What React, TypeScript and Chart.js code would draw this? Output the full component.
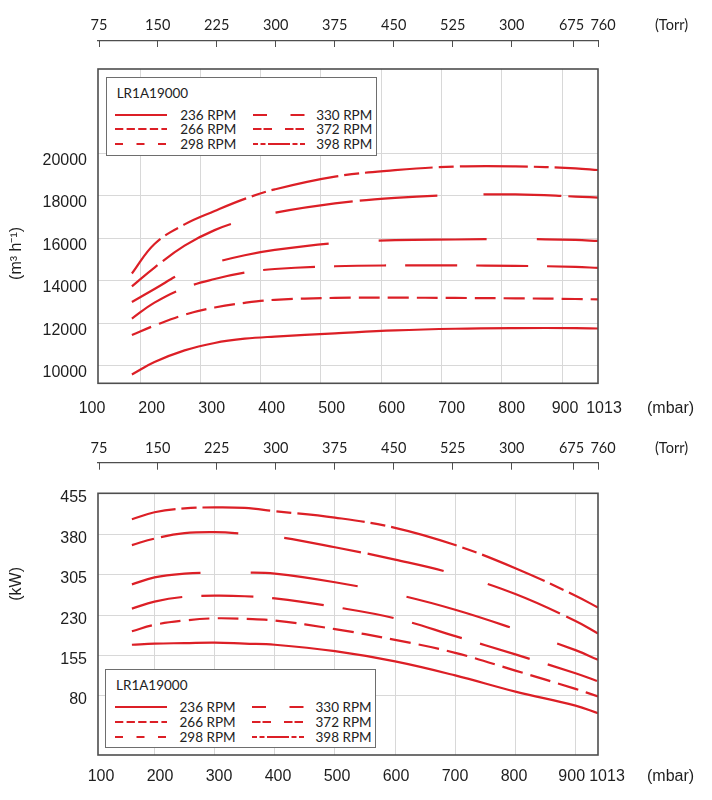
import React, { useEffect, useRef } from 'react';
import { Chart, registerables, LinearScale } from 'chart.js';

// pressure axis of the original is not linear: 100..200 and 900..1013 are squeezed,
// so the x scales map mbar through a few stops (value, fraction of plot width)
function mapStops(stops: number[][], v: number, from: number, to: number) {
  let i = 0;
  while (i < stops.length - 2 && v > stops[i + 1][from]) i++;
  const a = stops[i];
  const b = stops[i + 1];
  return a[to] + ((v - a[from]) / (b[from] - a[from])) * (b[to] - a[to]);
}

class PiecewiseScale extends LinearScale {
  static id = 'piecewise';
  getPixelForValue(value: number) {
    if (value === null || value === undefined || Number.isNaN(+value)) return NaN;
    return this.getPixelForDecimal(mapStops((this.options as any).stops, +value, 0, 1));
  }
  getValueForPixel(pixel: number) {
    return mapStops((this.options as any).stops, this.getDecimalForPixel(pixel), 1, 0);
  }
}

Chart.register(...registerables, PiecewiseScale);

// ---- data ----
const modelName = 'LR1A19000';
const rpmLabels = ['236 RPM', '266 RPM', '298 RPM', '330 RPM', '372 RPM', '398 RPM'];

const pressureMbar = [160, 200, 250, 300, 350, 400, 500, 600, 700, 800, 900, 1013];

const flow236 = [9590, 10170, 10720, 11070, 11270, 11370, 11520, 11660, 11740, 11770, 11770, 11750];
const flow266 = [11450, 11890, 12400, 12740, 12960, 13100, 13190, 13200, 13190, 13170, 13140, 13120];
const flow298 = [12220, 12970, 13660, 14080, 14380, 14550, 14680, 14720, 14720, 14700, 14650, 14600];
const flow330 = [13000, 13610, 14400, 14850, 15200, 15450, 15770, 15910, 15940, 15960, 15920, 15870];
const flow372 = [13730, 14620, 15650, 16380, 16860, 17200, 17640, 17900, 18030, 18060, 17960, 17910];
const flow398 = [14340, 15730, 16650, 17280, 17850, 18300, 18900, 19200, 19370, 19380, 19290, 19210];

const power236 = [175, 177, 178, 179, 177, 175, 163, 144, 118, 88, 62, 48];
const power266 = [200, 212, 220, 224, 223, 220, 204, 184, 160, 127, 93, 79];
const power298 = [242, 255, 264, 266, 265, 261, 245, 224, 191, 157, 122, 107];
const power330 = [287, 300, 307, 309, 309, 307, 291, 269, 240, 204, 165, 147];
const power372 = [360, 372, 382, 384, 381, 376, 356, 333, 306, 269, 219, 196];
const power398 = [408, 421, 428, 430, 429, 423, 411, 392, 360, 317, 266, 244];

const mbarTicks = [100, 200, 300, 400, 500, 600, 700, 800, 900, 1013];
const torrLabels = ['75', '150', '225', '300', '375', '450', '525', '300', '675', '760'];
const gridMbar = [200, 300, 400, 500, 600, 700, 800, 900];
const flowTicks = [10000, 12000, 14000, 16000, 18000, 20000];
const powerTicks = [80, 155, 230, 305, 380, 455];

const mbarUnit = '(mbar)';
const torrUnit = '(Torr)';

// ---- styles ----
const ARIAL = "'Liberation Sans', Arial, sans-serif";
const MYRIAD = "Lato, 'Open Sans', sans-serif";
const TEXT = '#1e1e1e';
const RED = '#dc1f26';
const GRID = '#d8d8d8';
const FRAME = '#4e4e4e';
const LABEL_SIZE = 16;
const TORR_SIZE = 14.5;

const plotDash = [[], [21, 8], [52, 19], [108, 50], [78, 7, 78, 46], [68, 6, 15, 6]];
const legendDash = ['', '8.3 3.3', '8 13.5', '14 23.5', '8.5 2 8.5 13', '5 2.5 5 2.5 22 2.5 5 2.5 5'];

const dataStops = [[100, 0], [200, 0.113], [900, 0.955], [1013, 1]];
const torrStops = [[100, 0.002], [200, 0.1194], [800, 0.8274], [900, 0.95], [1013, 1]];
const torrLabelStops = [[100, 0.002], [200, 0.1194], [800, 0.8274], [900, 0.947], [1013, 1.01]];

type PanelSpec = {
  height: number;
  values: number[][];
  dashOffset: number[];
  yMin: number;
  yMax: number;
  yTicks: number[];
  yLabelOffset: number;
  yTitle: string;
  yTitleDy: number;
  gridStops: number[][];
  labelStops: number[][];
  torrLabelHeight: number;
  torrHeight: number;
  torrTick: number;
  gapHeight: number;
  labelHeight: number;
  labelPad: number;
  legendTop: number;
  legendLeft: number;
};

const TORR_PAD = 0.3;

const flowPanel: PanelSpec = {
  height: 420,
  values: [flow236, flow266, flow298, flow330, flow372, flow398],
  dashOffset: [0, 0, 0, 58, 45, 23],
  yMin: 9172,
  yMax: 23963,
  yTicks: flowTicks,
  yLabelOffset: 7,
  yTitle: '(m³ h⁻¹)',
  yTitleDy: -6,
  gridStops: [[100, -0.0367], [200, 0.084], [900, 0.9286], [1013, 1.065]],
  labelStops: [[100, -0.012], [200, 0.1074], [800, 0.8274], [900, 0.934], [1013, 1.012]],
  torrLabelHeight: 34,
  torrHeight: 6.5,
  torrTick: 6.5,
  gapHeight: 28.5,
  labelHeight: 36.7,
  labelPad: 16.1,
  legendTop: 76.7,
  legendLeft: 105.7,
};

const powerPanel: PanelSpec = {
  height: 380,
  values: [power236, power266, power298, power330, power372, power398],
  dashOffset: [0, 0, 0, 38, 55, 23],
  yMin: -29.7,
  yMax: 456.1,
  yTicks: powerTicks,
  yLabelOffset: 4,
  yTitle: '(kW)',
  yTitleDy: -11,
  gridStops: dataStops,
  labelStops: [[100, 0.006], [200, 0.124], [800, 0.832], [900, 0.9474], [1013, 1.018]],
  torrLabelHeight: 37,
  torrHeight: 5.7,
  torrTick: 7,
  gapHeight: 30.6,
  labelHeight: 45,
  labelPad: 12.4,
  legendTop: 249,
  legendLeft: 105,
};

const framePlugin = {
  id: 'frame',
  afterDatasetsDraw(chart: any) {
    const { ctx, chartArea: a } = chart;
    ctx.save();
    ctx.strokeStyle = FRAME;
    ctx.lineWidth = 1.6;
    ctx.strokeRect(a.left, a.top, a.right - a.left, a.bottom - a.top);
    ctx.restore();
  },
};

function makeTextPlugin(spec: PanelSpec) {
  return {
    id: 'axisText',
    afterDraw(chart: any) {
      const { ctx, chartArea, scales } = chart;
      ctx.save();
      ctx.fillStyle = TEXT;
      ctx.textBaseline = 'middle';
      ctx.textAlign = 'left';

      ctx.font = `${LABEL_SIZE}px ${ARIAL}`;
      ctx.fillText(mbarUnit, chartArea.right + 49, scales.xLabel.top + spec.labelPad + LABEL_SIZE * 0.6);

      ctx.font = `${TORR_SIZE}px ${MYRIAD}`;
      ctx.fillText(torrUnit, chartArea.right + 57, scales.xTorrLabel.bottom - TORR_PAD - TORR_SIZE * 0.6);

      const y = scales.y;
      const first = y.getPixelForValue(spec.yTicks[0]);
      const last = y.getPixelForValue(spec.yTicks[spec.yTicks.length - 1]);
      ctx.translate(17, (first + last) / 2 + spec.yTitleDy);
      ctx.rotate(-Math.PI / 2);
      ctx.textAlign = 'center';
      ctx.font = `${LABEL_SIZE}px ${ARIAL}`;
      ctx.fillText(spec.yTitle, 0, 0);
      ctx.restore();
    },
  };
}

function buildConfig(spec: PanelSpec): any {
  const height = (h: number) => (s: any) => {
    s.height = h;
  };
  const mbarTickList = (s: any) => {
    s.ticks = mbarTicks.map((value) => ({ value }));
  };
  return {
    type: 'line',
    data: {
      datasets: spec.values.map((vals, i) => ({
        label: rpmLabels[i],
        data: pressureMbar.map((x, j) => ({ x, y: vals[j] })),
        xAxisID: 'x',
        yAxisID: 'y',
        borderColor: RED,
        borderWidth: 2.2,
        borderDash: plotDash[i],
        borderDashOffset: spec.dashOffset[i],
        pointRadius: 0,
        tension: 0.4,
        fill: false,
      })),
    },
    options: {
      responsive: false,
      animation: false,
      events: [],
      layout: { padding: { left: 0, right: 114, top: 0, bottom: 0 } },
      plugins: { legend: { display: false }, tooltip: { enabled: false } },
      scales: {
        x: { type: 'piecewise', stops: dataStops, min: 100, max: 1013, display: false },
        xGrid: {
          type: 'piecewise',
          stops: spec.gridStops,
          min: 100,
          max: 1013,
          position: 'bottom',
          weight: 0,
          afterBuildTicks: (s: any) => {
            s.ticks = gridMbar.map((value) => ({ value }));
          },
          afterFit: height(0),
          grid: { color: GRID, lineWidth: 1, drawTicks: false },
          border: { display: false },
          ticks: { display: false, autoSkip: false },
        },
        xLabel: {
          type: 'piecewise',
          stops: spec.labelStops,
          min: 100,
          max: 1013,
          position: 'bottom',
          weight: 1,
          afterBuildTicks: mbarTickList,
          afterFit: height(spec.labelHeight),
          grid: { display: false, drawTicks: false },
          border: { display: false },
          ticks: {
            autoSkip: false,
            maxRotation: 0,
            minRotation: 0,
            padding: spec.labelPad,
            color: TEXT,
            font: { family: ARIAL, size: LABEL_SIZE },
            callback: (v: number) => String(v),
          },
        },
        xGap: {
          type: 'linear',
          position: 'top',
          weight: 1,
          afterFit: height(spec.gapHeight),
          grid: { display: false, drawTicks: false },
          border: { display: false },
          ticks: { display: false },
        },
        xTorr: {
          type: 'piecewise',
          stops: torrStops,
          min: 100,
          max: 1013,
          position: 'top',
          weight: 2,
          afterBuildTicks: mbarTickList,
          afterFit: height(spec.torrHeight),
          grid: {
            display: true,
            drawOnChartArea: false,
            drawTicks: true,
            tickLength: -spec.torrTick,
            tickColor: FRAME,
            tickWidth: 1,
          },
          border: { display: true, color: FRAME, width: 1.3 },
          ticks: { display: false, autoSkip: false },
        },
        xTorrLabel: {
          type: 'piecewise',
          stops: torrLabelStops,
          min: 100,
          max: 1013,
          position: 'top',
          weight: 3,
          afterBuildTicks: mbarTickList,
          afterFit: height(spec.torrLabelHeight),
          grid: { display: false, drawTicks: false },
          border: { display: false },
          ticks: {
            autoSkip: false,
            maxRotation: 0,
            minRotation: 0,
            padding: TORR_PAD,
            color: TEXT,
            font: { family: MYRIAD, size: TORR_SIZE },
            callback: (_v: number, i: number) => torrLabels[i],
          },
        },
        y: {
          type: 'linear',
          position: 'left',
          min: spec.yMin,
          max: spec.yMax,
          afterBuildTicks: (s: any) => {
            s.ticks = spec.yTicks.map((value) => ({ value }));
          },
          afterFit: (s: any) => {
            s.width = 98;
          },
          grid: { color: GRID, lineWidth: 1, drawTicks: false },
          border: { display: false },
          ticks: {
            autoSkip: false,
            padding: 11,
            labelOffset: spec.yLabelOffset,
            color: TEXT,
            font: { family: ARIAL, size: LABEL_SIZE },
            callback: (v: number) => String(v),
          },
        },
      },
    },
    plugins: [framePlugin, makeTextPlugin(spec)],
  };
}

function Legend({ top, left }: { top: number; left: number }) {
  return (
    <div
      style={{
        position: 'absolute',
        top,
        left,
        width: 271,
        height: 79,
        boxSizing: 'border-box',
        border: '1px solid #6e6e6e',
        background: '#fff',
        fontFamily: MYRIAD,
        fontSize: 13.5,
        color: '#222',
      }}
    >
      <div style={{ position: 'absolute', left: 10, top: 7, lineHeight: '17px' }}>{modelName}</div>
      {rpmLabels.map((label, i) => {
        const col = Math.floor(i / 3);
        const row = i % 3;
        return (
          <div
            key={label}
            style={{
              position: 'absolute',
              left: col ? 146 : 8.5,
              top: 29 + row * 14.8,
              height: 16,
              display: 'flex',
              alignItems: 'center',
              whiteSpace: 'nowrap',
            }}
          >
            <svg width={52} height={6} style={{ display: 'block' }}>
              <line
                x1={0}
                y1={3}
                x2={52}
                y2={3}
                stroke={RED}
                strokeWidth={1.8}
                strokeDasharray={legendDash[i] || undefined}
              />
            </svg>
            <span style={{ marginLeft: col ? 11.5 : 13, lineHeight: '16px' }}>{label}</span>
          </div>
        );
      })}
    </div>
  );
}

function Panel({ spec }: { spec: PanelSpec }) {
  const canvasRef = useRef<HTMLCanvasElement>(null);

  useEffect(() => {
    if (!canvasRef.current) return;
    const chart = new Chart(canvasRef.current, buildConfig(spec));
    return () => {
      chart.destroy();
    };
  }, [spec]);

  return (
    <div style={{ position: 'relative', width: 712, height: spec.height }}>
      <canvas ref={canvasRef} width={712} height={spec.height} style={{ display: 'block' }} />
      <Legend top={spec.legendTop} left={spec.legendLeft} />
    </div>
  );
}

export default function App() {
  return (
    <div style={{ width: 712, height: 800, background: '#fff' }}>
      <style>{'html,body{margin:0;padding:0;background:#fff}'}</style>
      <Panel spec={flowPanel} />
      <Panel spec={powerPanel} />
    </div>
  );
}
